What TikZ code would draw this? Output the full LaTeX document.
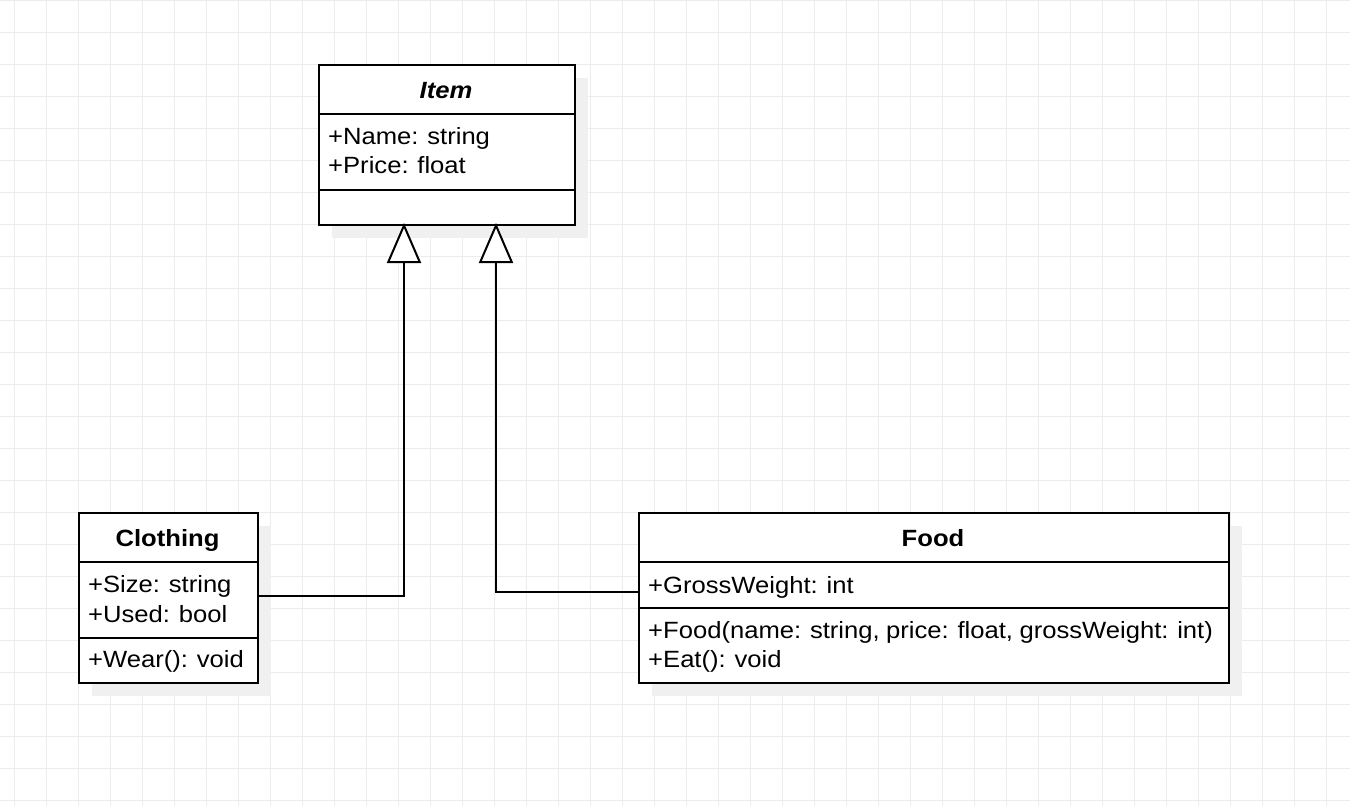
\documentclass[tikz,border=0pt]{standalone}
\usepackage{fontspec}
\setmainfont[FakeStretch=1.09,WordSpace=0.9]{Liberation Sans}
\usetikzlibrary{arrows.meta}
\definecolor{gridc}{RGB}{236,236,236}
\definecolor{shadowc}{RGB}{240,240,240}
\begin{document}
\begin{tikzpicture}[x=1pt,y=-1pt,
  box/.style={draw=black,line width=2pt,fill=white,inner sep=0pt,anchor=north west},
  shad/.style={fill=shadowc,draw=none,inner sep=0pt,anchor=north west},
  sep/.style={line width=2pt},
  txt/.style={anchor=base west,inner sep=0pt,font=\fontsize{23.5}{28}\selectfont},
  ttl/.style={anchor=base,inner sep=0pt,font=\fontsize{23.5}{28}\selectfont\bfseries},
  inh/.style={line width=2pt,-{Triangle[open,length=40pt,width=34pt,fill=white,line width=2pt]}}]
\fill[white] (0,0) rectangle (1350,806);
\useasboundingbox (0,0) rectangle (1350,806);
\foreach \x in {14,46,...,1350} \draw[gridc,line width=1pt] (\x,0) -- (\x,806);
\foreach \y in {0,32,...,806} \draw[gridc,line width=1pt] (0,\y) -- (1350,\y);
% shadows
\node[shad,minimum width=256pt,minimum height=160pt] (itemS) at (331.5,77.5) {};
\node[shad,minimum width=179pt,minimum height=170pt] (clothS) at (91.5,525.5) {};
\node[shad,minimum width=590pt,minimum height=170pt] (foodS) at (651.5,525.5) {};
% Item
\node[box,minimum width=256pt,minimum height=160pt] (item) at (317.5,63.5) {};
\draw[sep] (item.west |- 0,114) -- (item.east |- 0,114);
\draw[sep] (item.west |- 0,190) -- (item.east |- 0,190);
\node[ttl,font=\fontsize{23.5}{28}\selectfont\bfseries\itshape] (itemT) at (446,98) {Item};
\node[txt] (itemA1) at (328,144) {+Name: string};
\node[txt] (itemA2) at (328,173.5) {+Price: float};
% Clothing
\node[box,minimum width=179pt,minimum height=170pt] (cloth) at (77.5,511.5) {};
\draw[sep] (cloth.west |- 0,562) -- (cloth.east |- 0,562);
\draw[sep] (cloth.west |- 0,638) -- (cloth.east |- 0,638);
\node[ttl] (clothT) at (167.5,546) {Clothing};
\node[txt] (clothA1) at (88,592) {+Size: string};
\node[txt] (clothA2) at (88,622) {+Used: bool};
\node[txt] (clothM1) at (88,667) {+Wear(): void};
% Food
\node[box,minimum width=590pt,minimum height=170pt] (food) at (637.5,511.5) {};
\draw[sep] (food.west |- 0,562) -- (food.east |- 0,562);
\draw[sep] (food.west |- 0,608) -- (food.east |- 0,608);
\node[ttl] (foodT) at (933,546) {Food};
\node[txt] (foodA1) at (648,593) {+GrossWeight: int};
\node[txt] (foodM1) at (648,638) {+Food(name: string, price: float, grossWeight: int)};
\node[txt] (foodM2) at (648,667) {+Eat(): void};
% connectors
\coordinate (itemInA) at (404,223);
\coordinate (itemInB) at (496,223);
\draw[inh] (cloth.east |- 0,596) -| (itemInA);
\draw[inh] (food.west |- 0,592) -| (itemInB);
\end{tikzpicture}
\end{document}
